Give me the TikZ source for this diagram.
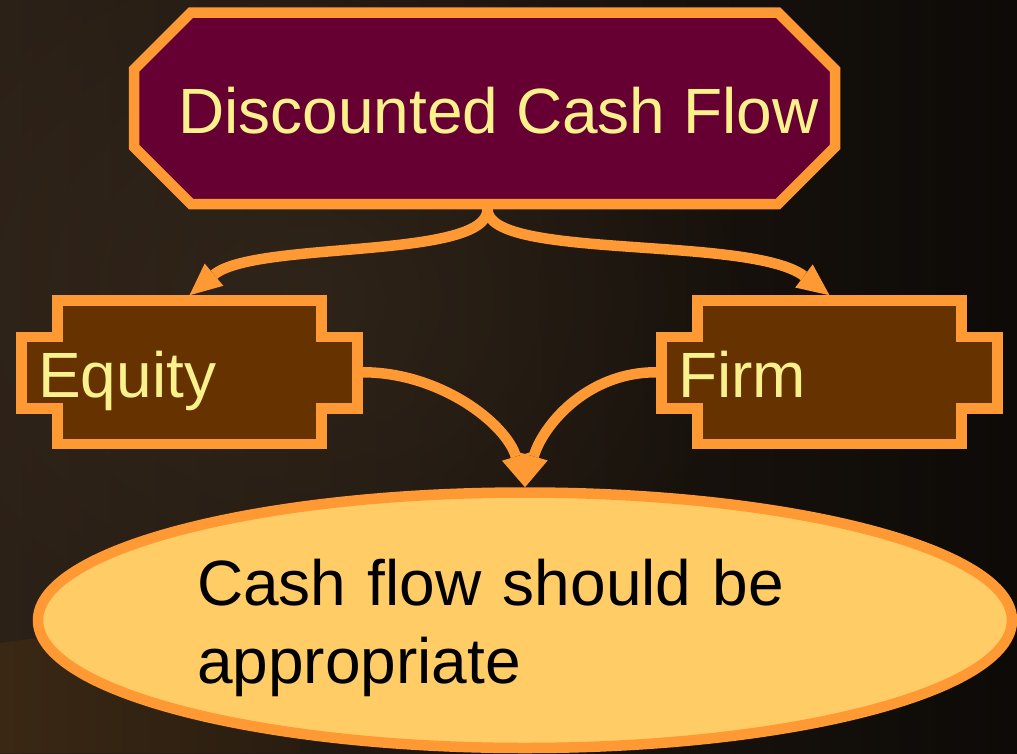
\documentclass[tikz,border=0pt]{standalone}
\usepackage{fontspec}
\setmainfont{Liberation Sans}
\usetikzlibrary{arrows.meta,shapes.geometric,calc,fadings}

\definecolor{edgeorange}{HTML}{FF9933}
\definecolor{maroonfill}{HTML}{660033}
\definecolor{brownfill}{HTML}{663300}
\definecolor{paleyellow}{HTML}{F9F18C}
\definecolor{ovalfill}{HTML}{FFCC66}
\definecolor{bgleft}{HTML}{2C2117}
\definecolor{bgmid}{HTML}{1F160F}
\definecolor{bgright}{HTML}{0D0A07}
\definecolor{glowcol}{HTML}{3A2C1E}
\definecolor{floorleft}{HTML}{3A2814}
\definecolor{floorright}{HTML}{2A1D10}

\tikzfading[name=softglow, inner color=transparent!45, outer color=transparent!100]

% cross-shaped box outline around a frame node (half sizes in pt)
\newcommand\crossoutline[1]{%
  \draw[outline, fill=brownfill, shift={(#1.center)}]
    (-132,-71.75) -- (132,-71.75) -- (132,-35.25) -- (168,-35.25)
    -- (168,36.25) -- (132,36.25) -- (132,71.75) -- (-132,71.75)
    -- (-132,36.25) -- (-168,36.25) -- (-168,-35.25) -- (-132,-35.25) -- cycle;}

\begin{document}
\begin{tikzpicture}[x=1pt,y=-1pt,
  frame/.style={rectangle, draw=none, inner sep=0pt, outer sep=5.25pt},
  outline/.style={draw=edgeorange, line width=10.5pt, line join=miter},
  txt/.style={anchor=base west, inner sep=0pt, font=\fontsize{64pt}{78pt}\selectfont},
  conn/.style={draw=edgeorange, line width=10.5pt,
    -{Triangle[length=32pt,width=29pt,line width=0pt]}}]

% backdrop
\useasboundingbox (0,0) rectangle (1017,753);
\shade[left color=bgleft, middle color=bgmid, right color=bgright] (0,0) rectangle (1017,753);
\fill[glowcol, path fading=softglow] (300,300) ellipse [x radius=460, y radius=380];
\shade[left color=floorleft, right color=floorright]
  (0,643) .. controls (60,634) and (160,628) .. (300,626) -- (300,753) -- (0,753) -- cycle;

% frames of the boxes
\node[frame, minimum width=701pt, minimum height=191.5pt] (dcf) at (484.5,108.25) {};
\node[frame, minimum width=336pt, minimum height=143.5pt] (eq) at (189.5,372.25) {};
\node[frame, minimum width=336pt, minimum height=143.5pt] (firm) at (829.5,372.25) {};

% bottom oval
\node[ellipse, draw=edgeorange, line width=10.5pt, fill=ovalfill, inner sep=0pt,
  minimum width=974pt, minimum height=255.5pt] (oval) at (525,620.25) {};

% connectors
\draw[conn] ([xshift=3pt]dcf.south) .. controls +(0,51) and +(65.5,-55) .. (eq.north);
\draw[conn] ([xshift=3pt]dcf.south) .. controls +(0,51) and +(-79.5,-60) .. (firm.north);
\draw[conn] (eq.east) .. controls +(77,0) and +(-19,-64) .. (oval.north);
\draw[conn] (firm.west) .. controls +(-71,0) and +(17,-60) .. (oval.north);

% octagon
\draw[outline, fill=maroonfill, shift={(dcf.center)}]
  (-293.5,-95.75) -- (293.5,-95.75) -- (350.5,-38.75) -- (350.5,38.75)
  -- (293.5,95.75) -- (-293.5,95.75) -- (-350.5,38.75) -- (-350.5,-38.75) -- cycle;
\crossoutline{eq}
\crossoutline{firm}

% labels
\node[txt, text=paleyellow] (dcftxt) at (178,133) {Discounted Cash Flow};
\node[txt, text=paleyellow] (eqtxt) at (38,397) {Equity};
\node[txt, text=paleyellow] (firmtxt) at (678,397) {Firm};
\node[txt, text=black, text width=640pt, align=left] (ovaltxt) at (197,605)
  {Cash flow should be\\appropriate};
\end{tikzpicture}
\end{document}
